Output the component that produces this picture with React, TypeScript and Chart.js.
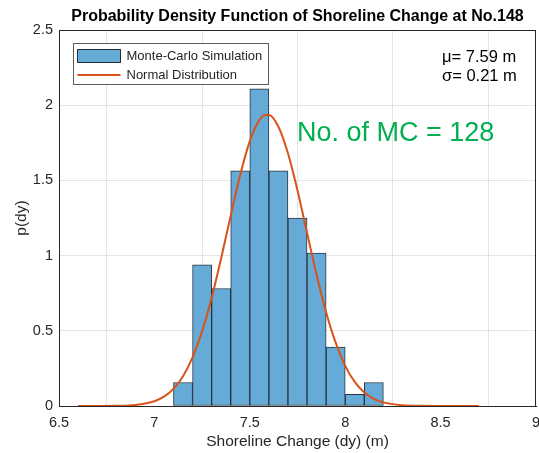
import React, { useEffect, useRef } from 'react';
import { Chart, registerables } from 'chart.js';

Chart.register(...registerables);

// ---- data ----
const binCenters = [7.15, 7.25, 7.35, 7.45, 7.55, 7.65, 7.75, 7.85, 7.95, 8.05, 8.15];
const binDensity = [0.156, 0.938, 0.781, 1.563, 2.109, 1.563, 1.25, 1.016, 0.391, 0.078, 0.156];

const curveX = [6.6, 6.7, 6.8, 6.9, 7.0, 7.05, 7.1, 7.15, 7.2, 7.25, 7.3, 7.35, 7.4, 7.45, 7.5, 7.55, 7.58, 7.6, 7.65, 7.7, 7.75, 7.8, 7.85, 7.9, 7.95, 8.0, 8.05, 8.1, 8.15, 8.2, 8.3, 8.4, 8.5, 8.6, 8.7];
const curveY = [0.0, 0.0002, 0.0012, 0.007, 0.032, 0.062, 0.114, 0.198, 0.323, 0.496, 0.719, 0.983, 1.266, 1.538, 1.761, 1.901, 1.935, 1.935, 1.857, 1.68, 1.433, 1.152, 0.873, 0.624, 0.421, 0.267, 0.16, 0.09, 0.048, 0.024, 0.005, 0.001, 0.0001, 0.0, 0.0];

const xTicks = [6.5, 7, 7.5, 8, 8.5, 9];
const yTicks = [0, 0.5, 1, 1.5, 2, 2.5];

const titleText = 'Probability Density Function of Shoreline Change at No.148';
const xLabel = 'Shoreline Change (dy) (m)';
const yLabel = 'p(dy)';
const legendLabels = ['Monte-Carlo Simulation', 'Normal Distribution'];
const muText = 'μ= 7.59 m';
const sigmaText = 'σ= 0.21 m';
const mcText = 'No. of MC = 128';

const FONT = '"Liberation Sans", Arial, Helvetica, sans-serif';
const BAR_FILL = 'rgb(102,170,215)';
const BAR_EDGE = 'rgba(20,30,40,0.9)';
const LINE_COLOR = 'rgb(217,83,25)';
const AXIS_COLOR = '#262626';

const overlayPlugin = {
  id: 'overlay',
  afterDraw(chart: any) {
    const { ctx, chartArea } = chart;
    const { left, top, right, bottom } = chartArea;
    ctx.save();
    // box lines (top, right)
    ctx.strokeStyle = AXIS_COLOR;
    ctx.lineWidth = 1;
    ctx.beginPath();
    ctx.moveTo(left, Math.round(top) + 0.5);
    ctx.lineTo(right, Math.round(top) + 0.5);
    ctx.moveTo(Math.round(right) - 0.5, top);
    ctx.lineTo(Math.round(right) - 0.5, bottom);
    ctx.stroke();

    // legend
    const lx = left + 14.5;
    const ly = top + 13.5;
    const lw = 195;
    const lh = 41;
    ctx.fillStyle = '#ffffff';
    ctx.fillRect(lx, ly, lw, lh);
    ctx.strokeStyle = 'rgba(38,38,38,0.75)';
    ctx.strokeRect(lx, ly, lw, lh);
    ctx.fillStyle = BAR_FILL;
    ctx.fillRect(lx + 4, ly + 6, 43, 13);
    ctx.strokeStyle = BAR_EDGE;
    ctx.strokeRect(lx + 4, ly + 6, 43, 13);
    ctx.strokeStyle = LINE_COLOR;
    ctx.lineWidth = 2;
    ctx.beginPath();
    ctx.moveTo(lx + 4, ly + 31.5);
    ctx.lineTo(lx + 47, ly + 31.5);
    ctx.stroke();
    ctx.fillStyle = AXIS_COLOR;
    ctx.font = `13px ${FONT}`;
    ctx.textBaseline = 'middle';
    ctx.textAlign = 'left';
    ctx.fillText(legendLabels[0], lx + 53, ly + 12.5);
    ctx.fillText(legendLabels[1], lx + 53, ly + 31.5);

    // mu / sigma
    ctx.font = `16.5px ${FONT}`;
    ctx.fillStyle = '#000000';
    ctx.fillText(muText, 442, 57);
    ctx.fillText(sigmaText, 442, 76);

    // MC count
    ctx.font = `27px ${FONT}`;
    ctx.fillStyle = '#00b050';
    ctx.fillText(mcText, 297, 134);
    ctx.restore();
  },
};

const fmt = (v: any) => `${Number(v)}`;

export default function App() {
  const canvasRef = useRef<HTMLCanvasElement | null>(null);

  useEffect(() => {
    const canvas = canvasRef.current;
    if (!canvas) return;
    const chart = new Chart(canvas, {
      type: 'bar',
      data: {
        datasets: [
          {
            type: 'line',
            label: legendLabels[1],
            data: curveX.map((x, i) => ({ x, y: curveY[i] })),
            borderColor: LINE_COLOR,
            borderWidth: 2,
            pointRadius: 0,
            cubicInterpolationMode: 'monotone',
            fill: false,
            order: 0,
          } as any,
          {
            type: 'bar',
            label: legendLabels[0],
            data: binCenters.map((x, i) => ({ x, y: binDensity[i] })),
            backgroundColor: BAR_FILL,
            borderColor: BAR_EDGE,
            borderWidth: 1,
            borderSkipped: false,
            barPercentage: 1,
            categoryPercentage: 1,
            grouped: false,
            order: 1,
          } as any,
        ],
      },
      options: {
        animation: false,
        responsive: false,
        maintainAspectRatio: false,
        layout: { padding: { left: 0, right: 3, top: 0, bottom: 0 } },
        plugins: {
          legend: { display: false },
          tooltip: { enabled: false },
          title: {
            display: true,
            fullSize: false,
            text: titleText,
            color: '#000000',
            font: { family: FONT, size: 16, weight: 'bold' },
            padding: { top: 7, bottom: 3.8 },
          },
        },
        scales: {
          x: {
            type: 'linear',
            min: 6.5,
            max: 9,
            offset: false,
            afterBuildTicks: (scale: any) => {
              scale.ticks = xTicks.map((v) => ({ value: v }));
            },
            afterFit: (scale: any) => {
              scale.height = 47;
              scale.paddingLeft = 0;
              scale.paddingRight = 0;
            },
            ticks: {
              color: AXIS_COLOR,
              font: { family: FONT, size: 14.5 },
              padding: 8,
              maxRotation: 0,
              autoSkip: false,
              callback: fmt,
            },
            grid: { color: 'rgba(0,0,0,0.1)', drawTicks: false },
            border: { color: AXIS_COLOR, width: 1 },
            title: {
              display: true,
              text: xLabel,
              color: AXIS_COLOR,
              font: { family: FONT, size: 15.5 },
              padding: { top: 0, bottom: 2 },
            },
          },
          y: {
            type: 'linear',
            min: 0,
            max: 2.5,
            afterBuildTicks: (scale: any) => {
              scale.ticks = yTicks.map((v) => ({ value: v }));
            },
            afterFit: (scale: any) => {
              scale.width = 59;
              scale.paddingTop = 0;
              scale.paddingBottom = 0;
            },
            ticks: {
              color: AXIS_COLOR,
              font: { family: FONT, size: 14.5 },
              padding: 6,
              autoSkip: false,
              callback: fmt,
            },
            grid: { color: 'rgba(0,0,0,0.1)', drawTicks: false },
            border: { color: AXIS_COLOR, width: 1 },
            title: {
              display: true,
              text: yLabel,
              color: AXIS_COLOR,
              font: { family: FONT, size: 15.5 },
              padding: { top: 12, bottom: 0 },
            },
          },
        },
      } as any,
      plugins: [overlayPlugin],
    });
    return () => chart.destroy();
  }, []);

  return (
    <div style={{ position: 'absolute', left: 0, top: 0, width: 539, height: 453, background: '#ffffff' }}>
      <canvas ref={canvasRef} width={539} height={453} style={{ display: 'block' }} />
    </div>
  );
}
